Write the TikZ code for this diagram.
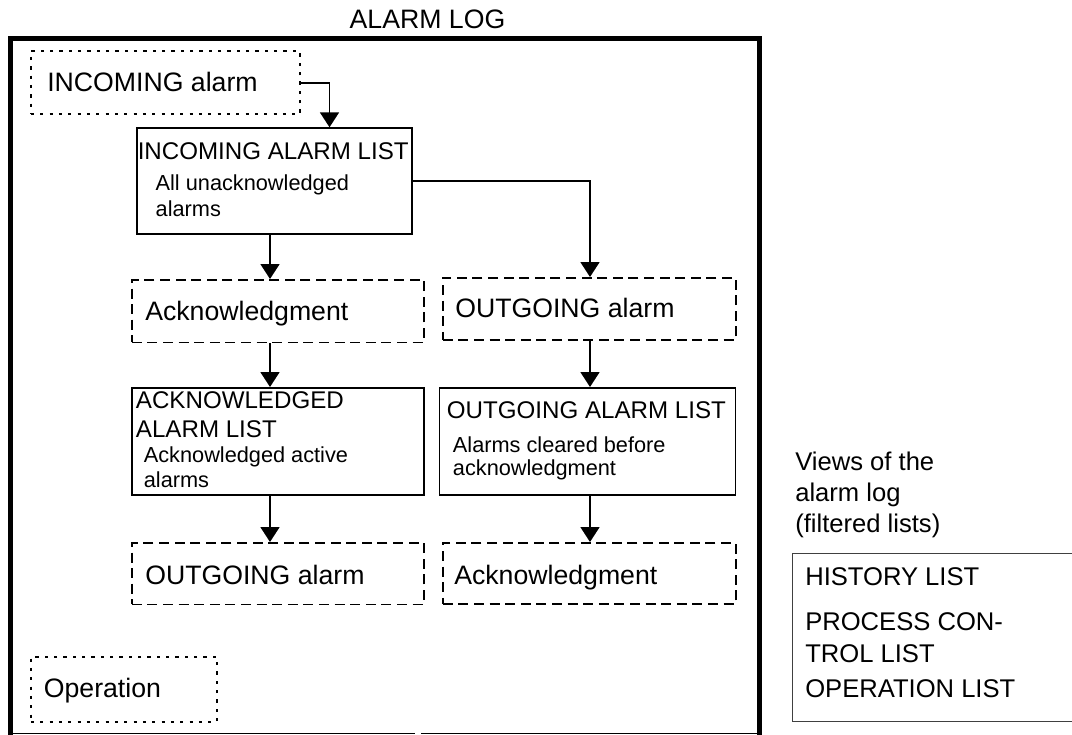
\documentclass[tikz,border=0pt]{standalone}
\usepackage{fontspec}
\setmainfont{Liberation Sans}
\usetikzlibrary{arrows.meta}
\newdimen\pxu \pxu=0.75pt
\newcommand\fbig{\fontsize{20pt}{24pt}\selectfont}
\newcommand\ftitle{\fontsize{18.1pt}{22pt}\selectfont}
\newcommand\fsub{\fontsize{16.3pt}{20pt}\selectfont}
\newcommand\fright{\fontsize{19.2pt}{23pt}\selectfont}
\tikzset{
  lbl/.style={inner sep=0pt, anchor=base west},
  dashbox/.style={draw, line width=1.25pt, dash pattern=on 7.5pt off 4.2pt, inner sep=0pt, anchor=north west},
  dotbox/.style={draw, line width=1.25pt, dash pattern=on 2.4pt off 4.6pt, inner sep=0pt, anchor=north west},
  listbox/.style={draw, line width=1.45pt, inner sep=0pt, anchor=north west},
  arr/.style={line width=1.3pt, -{Triangle[length=11.2pt, width=14.2pt]}},
  frame/.style={line width=3.8pt, line join=miter},
}
\begin{document}
\begin{tikzpicture}[x=0.75pt, y=-0.75pt]
\useasboundingbox (0,0) rectangle (1072,735);

% connector columns
\coordinate (colA) at (329.5,0);
\coordinate (colL) at (270,0);
\coordinate (colR) at (590,0);

% alarm log frame
\node[inner sep=0pt, anchor=base] (logtitle) at (427.5,28.5) {\fbig ALARM LOG};
\draw[frame] (10.2,740) -- (10.2,38.5) -- (759.7,38.5) -- (759.7,740);
\draw[line width=1.2pt] (10,733.5) -- (415,733.5) (421,733.5) -- (760,733.5);

% boxes
\node[dotbox, minimum width=269\pxu, minimum height=63\pxu] (inalarm) at (30,50.5) {};
\node[listbox, minimum width=275\pxu, minimum height=105.4\pxu] (inclist) at (136.4,127.3) {};
\node[dashbox, minimum width=292\pxu, minimum height=62.5\pxu] (ack) at (131,279) {};
\node[dashbox, minimum width=293\pxu, minimum height=62\pxu] (outalarm) at (442,277) {};
\node[listbox, minimum width=292\pxu, minimum height=107\pxu] (acklist) at (131,387) {};
\node[listbox, minimum width=296\pxu, minimum height=107\pxu] (outlist) at (438.5,387) {};
\node[dashbox, minimum width=292\pxu, minimum height=61.5\pxu] (outalarmL) at (131,542) {};
\node[dashbox, minimum width=293\pxu, minimum height=61\pxu] (ackR) at (442,542) {};
\node[dotbox, minimum width=186\pxu, minimum height=65\pxu] (oper) at (30,656) {};
\node[draw=black!75, line width=0.8pt, inner sep=0pt, anchor=north west,
      minimum width=300\pxu, minimum height=168\pxu] (views) at (792,553) {};

% texts
\node[lbl] (t-inalarm) at (47,91.5) {\fbig INCOMING alarm};
\node[lbl] (t-inclist) at (137.5,159.3) {\ftitle INCOMING ALARM LIST};
\node[lbl] (s-inclist1) at (155.4,190.7) {\fsub All unacknowledged};
\node[lbl] (s-inclist2) at (155.4,216.7) {\fsub alarms};
\node[lbl] (t-ack) at (145,320) {\fbig Acknowledgment};
\node[lbl] (t-outalarm) at (455,317) {\fbig OUTGOING alarm};
\node[lbl] (t-acklist1) at (135.7,408) {\ftitle ACKNOWLEDGED};
\node[lbl] (t-acklist2) at (135.7,437) {\ftitle ALARM LIST};
\node[lbl] (s-acklist1) at (143.6,462) {\fsub Acknowledged active};
\node[lbl] (s-acklist2) at (143.6,487) {\fsub alarms};
\node[lbl] (t-outlist) at (446.7,418) {\ftitle OUTGOING ALARM LIST};
\node[lbl] (s-outlist1) at (452.7,452) {\fsub Alarms cleared before};
\node[lbl] (s-outlist2) at (452.7,475) {\fsub acknowledgment};
\node[lbl] (t-outalarmL) at (145,584) {\fbig OUTGOING alarm};
\node[lbl] (t-ackR) at (454,584) {\fbig Acknowledgment};
\node[lbl] (t-oper) at (43.6,697) {\fbig Operation};

\node[lbl] (v1) at (795,470) {\fright Views of the};
\node[lbl] (v2) at (795,501) {\fright alarm log};
\node[lbl] (v3) at (795,532) {\fright (filtered lists)};
\node[lbl] (l1) at (805,585) {\fright HISTORY LIST};
\node[lbl] (l2) at (805,630) {\fright PROCESS CON-};
\node[lbl] (l3) at (805,662) {\fright TROL LIST};
\node[lbl] (l4) at (805,697) {\fright OPERATION LIST};

% connectors
\draw[arr] (inalarm.east) -| (inclist.north -| colA);
\draw[arr] (inclist.south -| colL) -- (ack.north -| colL);
\draw[arr] (inclist.east) -| (outalarm.north -| colR);
\draw[arr] (ack.south -| colL) -- (acklist.north -| colL);
\draw[arr] (acklist.south -| colL) -- (outalarmL.north -| colL);
\draw[arr] (outalarm.south -| colR) -- (outlist.north -| colR);
\draw[arr] (outlist.south -| colR) -- (ackR.north -| colR);
\end{tikzpicture}
\end{document}
